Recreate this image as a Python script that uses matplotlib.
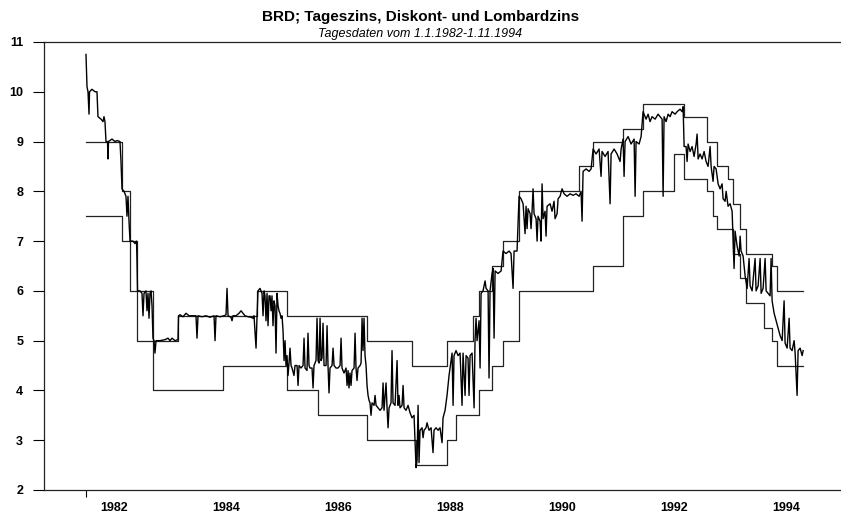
import matplotlib
matplotlib.use("Agg")
import matplotlib.pyplot as plt
import numpy as np

plt.rcParams['font.family'] = ['Liberation Sans', 'DejaVu Sans']

# Tageszins (Tagesgeld): Zeit in Dezimaljahren, Wert in %
tag_t = [
    1982.000, 1982.018, 1982.036, 1982.054, 1982.063, 1982.107, 1982.161, 1982.196, 1982.214, 1982.268,
    1982.304, 1982.321, 1982.339, 1982.357, 1982.384, 1982.393, 1982.402, 1982.464, 1982.518, 1982.554,
    1982.607, 1982.625, 1982.643, 1982.679, 1982.714, 1982.732, 1982.750, 1982.768, 1982.786, 1982.839,
    1982.875, 1982.902, 1982.911, 1982.920, 1982.964, 1983.000, 1983.018, 1983.036, 1983.071, 1983.089,
    1983.107, 1983.125, 1983.143, 1983.161, 1983.179, 1983.196, 1983.214, 1983.232, 1983.250, 1983.321,
    1983.411, 1983.464, 1983.500, 1983.536, 1983.589, 1983.643, 1983.652, 1983.679, 1983.732, 1983.786,
    1983.839, 1983.893, 1983.964, 1983.982, 1984.000, 1984.071, 1984.143, 1984.214, 1984.286, 1984.304,
    1984.321, 1984.393, 1984.464, 1984.500, 1984.518, 1984.536, 1984.589, 1984.607, 1984.625, 1984.679,
    1984.732, 1984.768, 1984.804, 1984.839, 1984.893, 1984.946, 1984.982, 1985.000, 1985.036, 1985.054,
    1985.071, 1985.107, 1985.143, 1985.161, 1985.179, 1985.196, 1985.214, 1985.232, 1985.250, 1985.268,
    1985.286, 1985.304, 1985.321, 1985.339, 1985.357, 1985.375, 1985.393, 1985.411, 1985.429, 1985.446,
    1985.464, 1985.482, 1985.500, 1985.518, 1985.536, 1985.554, 1985.571, 1985.589, 1985.607, 1985.625,
    1985.643, 1985.661, 1985.679, 1985.714, 1985.732, 1985.768, 1985.786, 1985.804, 1985.839, 1985.875,
    1985.893, 1985.911, 1985.946, 1985.964, 1985.982, 1986.000, 1986.036, 1986.054, 1986.071, 1986.107,
    1986.125, 1986.143, 1986.161, 1986.179, 1986.196, 1986.214, 1986.232, 1986.250, 1986.286, 1986.304,
    1986.321, 1986.339, 1986.357, 1986.393, 1986.411, 1986.429, 1986.464, 1986.500, 1986.536, 1986.554,
    1986.571, 1986.607, 1986.643, 1986.661, 1986.679, 1986.696, 1986.714, 1986.732, 1986.750, 1986.786,
    1986.804, 1986.821, 1986.839, 1986.857, 1986.893, 1986.911, 1986.929, 1986.946, 1986.964, 1986.982,
    1987.000, 1987.018, 1987.036, 1987.054, 1987.071, 1987.089, 1987.107, 1987.143, 1987.161, 1987.179,
    1987.214, 1987.250, 1987.286, 1987.304, 1987.321, 1987.357, 1987.375, 1987.393, 1987.411, 1987.446,
    1987.464, 1987.482, 1987.518, 1987.554, 1987.571, 1987.589, 1987.607, 1987.643, 1987.661, 1987.679,
    1987.714, 1987.750, 1987.786, 1987.821, 1987.857, 1987.875, 1987.893, 1987.911, 1987.929, 1987.946,
    1987.964, 1988.000, 1988.018, 1988.036, 1988.071, 1988.089, 1988.125, 1988.161, 1988.196, 1988.214,
    1988.250, 1988.286, 1988.321, 1988.357, 1988.375, 1988.411, 1988.446, 1988.482, 1988.518, 1988.536,
    1988.554, 1988.571, 1988.607, 1988.643, 1988.679, 1988.714, 1988.732, 1988.768, 1988.786, 1988.821,
    1988.839, 1988.857, 1988.893, 1988.929, 1988.946, 1988.964, 1988.982, 1989.000, 1989.018, 1989.036,
    1989.054, 1989.089, 1989.125, 1989.143, 1989.179, 1989.196, 1989.214, 1989.250, 1989.268, 1989.286,
    1989.304, 1989.357, 1989.411, 1989.446, 1989.500, 1989.554, 1989.589, 1989.625, 1989.643, 1989.696,
    1989.732, 1989.768, 1989.804, 1989.839, 1989.857, 1989.875, 1989.893, 1989.929, 1989.946, 1989.964,
    1989.982, 1990.000, 1990.036, 1990.054, 1990.071, 1990.107, 1990.125, 1990.143, 1990.161, 1990.196,
    1990.214, 1990.232, 1990.286, 1990.321, 1990.357, 1990.375, 1990.411, 1990.429, 1990.464, 1990.500,
    1990.536, 1990.589, 1990.643, 1990.696, 1990.750, 1990.804, 1990.839, 1990.857, 1990.875, 1990.929,
    1990.982, 1991.018, 1991.054, 1991.107, 1991.161, 1991.196, 1991.214, 1991.268, 1991.321, 1991.357,
    1991.375, 1991.429, 1991.482, 1991.536, 1991.554, 1991.589, 1991.607, 1991.625, 1991.679, 1991.732,
    1991.786, 1991.804, 1991.821, 1991.875, 1991.911, 1991.946, 1992.000, 1992.036, 1992.071, 1992.107,
    1992.161, 1992.214, 1992.250, 1992.286, 1992.304, 1992.321, 1992.357, 1992.393, 1992.429, 1992.464,
    1992.518, 1992.554, 1992.607, 1992.643, 1992.661, 1992.679, 1992.714, 1992.732, 1992.750, 1992.786,
    1992.821, 1992.857, 1992.893, 1992.911, 1992.929, 1992.964, 1993.000, 1993.036, 1993.071, 1993.107,
    1993.143, 1993.161, 1993.196, 1993.214, 1993.250, 1993.286, 1993.321, 1993.357, 1993.375, 1993.411,
    1993.429, 1993.464, 1993.500, 1993.536, 1993.571, 1993.589, 1993.625, 1993.661, 1993.679, 1993.696,
    1993.732, 1993.768, 1993.804, 1993.839, 1993.857, 1993.893, 1993.946, 1993.964, 1994.000, 1994.036,
    1994.054, 1994.089, 1994.125, 1994.143, 1994.179, 1994.214, 1994.232, 1994.250, 1994.286, 1994.321,
    1994.357, 1994.393, 1994.429, 1994.464, 1994.482, 1994.518, 1994.554, 1994.571, 1994.607, 1994.643,
    1994.661, 1994.696, 1994.714, 1994.750, 1994.786, 1994.804,
]
tag_v = [
    10.75, 10.10, 10.00, 9.55, 10.00, 10.05, 10.00, 10.00, 9.50, 9.45,
    9.40, 9.50, 9.40, 9.00, 9.00, 8.65, 9.00, 9.05, 9.00, 9.02,
    9.00, 8.60, 8.05, 8.00, 7.90, 7.50, 7.90, 7.40, 7.00, 7.00,
    6.95, 7.00, 6.60, 6.00, 6.00, 5.95, 5.50, 5.95, 6.00, 5.60,
    5.95, 5.45, 5.95, 6.00, 5.70, 5.05, 5.00, 4.75, 5.00, 5.00,
    5.02, 5.05, 5.00, 5.05, 5.00, 5.02, 5.50, 5.52, 5.48, 5.55,
    5.50, 5.50, 5.50, 5.05, 5.50, 5.48, 5.50, 5.47, 5.50, 5.00,
    5.50, 5.48, 5.50, 5.52, 6.05, 5.50, 5.47, 5.40, 5.50, 5.50,
    5.55, 5.60, 5.55, 5.50, 5.48, 5.47, 5.45, 5.50, 4.85, 5.50,
    6.00, 6.05, 5.95, 5.50, 6.00, 5.90, 5.40, 5.95, 5.30, 5.90,
    5.90, 5.60, 5.90, 5.30, 5.80, 5.70, 4.75, 5.95, 5.70, 5.60,
    5.55, 5.45, 5.50, 5.20, 4.60, 5.00, 4.50, 4.70, 4.30, 4.55,
    4.85, 4.50, 4.45, 4.30, 4.50, 4.50, 4.10, 4.50, 4.45, 4.50,
    5.05, 4.45, 4.40, 5.15, 4.50, 4.45, 4.45, 4.05, 4.50, 4.60,
    5.45, 4.60, 4.55, 5.45, 4.60, 4.65, 5.35, 4.50, 4.50, 5.30,
    4.50, 3.95, 4.45, 4.50, 4.85, 4.50, 4.45, 4.45, 4.50, 5.05,
    4.45, 4.35, 4.45, 4.10, 4.40, 4.05, 4.35, 4.10, 4.40, 4.45,
    5.15, 4.45, 4.20, 4.45, 4.50, 4.55, 5.45, 4.80, 5.45, 4.70,
    4.50, 4.10, 3.90, 3.80, 3.75, 3.50, 3.75, 3.70, 3.90, 3.70,
    3.65, 3.60, 3.65, 4.15, 3.60, 4.15, 3.65, 3.25, 3.65, 3.75,
    4.80, 3.75, 3.70, 4.60, 3.70, 3.90, 3.65, 3.70, 4.10, 3.65,
    3.60, 3.70, 3.55, 3.45, 3.50, 2.95, 2.45, 2.60, 3.70, 2.55,
    3.20, 3.25, 3.05, 3.20, 3.25, 3.35, 3.20, 3.25, 2.75, 3.20,
    3.25, 3.20, 3.25, 2.95, 3.45, 3.60, 3.90, 4.30, 4.60, 4.75,
    3.70, 4.70, 4.80, 4.70, 4.75, 3.70, 4.75, 3.90, 4.70, 4.65,
    3.90, 4.70, 4.75, 3.65, 5.00, 5.45, 5.00, 5.20, 5.40, 4.45,
    5.95, 6.00, 6.20, 6.05, 6.00, 4.25, 6.00, 6.35, 6.45, 5.05,
    6.40, 6.35, 6.40, 6.80, 6.75, 6.80, 6.75, 6.05, 6.80, 6.80,
    7.90, 7.85, 7.75, 7.15, 7.70, 7.25, 7.65, 7.55, 7.25, 7.60,
    8.05, 7.55, 7.45, 7.00, 7.50, 7.40, 7.00, 8.15, 7.45, 7.60,
    7.10, 7.70, 7.75, 7.60, 7.80, 7.45, 7.55, 7.85, 7.90, 8.05,
    7.95, 7.90, 7.95, 7.92, 7.95, 7.90, 8.00, 7.40, 8.40, 8.45,
    8.40, 8.45, 8.85, 8.75, 8.85, 8.30, 8.80, 8.70, 8.80, 7.75,
    8.75, 8.85, 8.75, 8.60, 8.85, 9.05, 8.30, 9.00, 9.10, 8.95,
    9.05, 7.90, 9.00, 8.95, 9.10, 9.60, 9.45, 9.55, 9.40, 9.50,
    9.45, 9.55, 9.50, 9.45, 7.90, 9.50, 9.40, 9.55, 9.50, 9.60,
    9.55, 9.60, 9.65, 9.60, 9.70, 8.90, 8.90, 8.60, 8.95, 8.80,
    8.90, 8.70, 8.95, 9.15, 8.65, 8.75, 8.65, 8.80, 8.60, 8.50,
    8.90, 8.50, 8.20, 8.50, 8.45, 8.15, 8.05, 8.15, 7.85, 7.80,
    8.00, 7.70, 7.75, 7.60, 6.45, 7.20, 6.90, 6.70, 7.10, 6.80,
    6.70, 6.30, 6.05, 6.65, 6.10, 6.00, 6.65, 6.00, 6.10, 6.65,
    5.95, 6.05, 6.65, 6.00, 5.95, 5.90, 6.65, 5.80, 5.55, 5.40,
    5.25, 5.10, 5.00, 5.80, 4.95, 4.85, 5.45, 4.85, 4.80, 5.00,
    4.75, 3.90, 4.80, 4.85, 4.70, 4.80,
]

# Diskontsatz: Beginn der Gueltigkeit und Satz
disk_t = [1982.000, 1982.643, 1982.786, 1982.911, 1983.196, 1984.446, 1985.589, 1986.143,
          1987.018, 1987.893, 1988.446, 1988.607, 1989.018, 1989.250, 1989.446, 1989.732,
          1991.054, 1991.589, 1991.946, 1992.500, 1992.679, 1993.089, 1993.196, 1993.268,
          1993.554, 1993.679, 1993.786, 1994.107, 1994.250, 1994.339, 1994.804]
disk_v = [7.5, 7.0, 6.0, 5.0, 4.0, 4.5, 4.0, 3.5,
          3.0, 2.5, 3.0, 3.5, 4.0, 4.5, 5.0, 6.0,
          6.5, 7.5, 8.0, 8.75, 8.25, 8.0, 7.5, 7.25,
          6.75, 6.25, 5.75, 5.25, 5.0, 4.5, 4.5]

# Lombardsatz
lomb_t = [1982.000, 1982.643, 1982.786, 1982.911, 1983.196, 1983.643, 1985.054, 1985.589,
          1987.018, 1987.821, 1988.446, 1988.911, 1989.018, 1989.250, 1989.446, 1989.732,
          1990.804, 1991.054, 1991.589, 1991.946, 1992.679, 1993.089, 1993.268, 1993.464,
          1993.554, 1993.679, 1993.786, 1994.250, 1994.339, 1994.804]
lomb_v = [9.0, 8.0, 7.0, 6.0, 5.0, 5.5, 6.0, 5.5,
          5.0, 4.5, 5.0, 5.5, 6.0, 6.5, 7.0, 8.0,
          8.5, 9.0, 9.25, 9.75, 9.5, 9.0, 8.5, 8.25,
          7.75, 7.25, 6.75, 6.5, 6.0, 6.0]

jahre = [1982, 1984, 1986, 1988, 1990, 1992, 1994]
y_ticks = [2, 3, 4, 5, 6, 7, 8, 9, 10, 11]

fig = plt.figure(figsize=(8.41, 5.19), dpi=100)
ax = fig.add_axes([0.0523, 0.0559, 0.9477, 0.8632])

ax.step(disk_t, disk_v, where='post', color='#222222', lw=0.9)
ax.step(lomb_t, lomb_v, where='post', color='#222222', lw=0.9)
ax.plot(tag_t, tag_v, color='black', lw=1.0)

ax.set_xlim(1981.25, 1995.48)
ax.set_ylim(2, 11)

ax.spines['right'].set_visible(False)
for s in ['left', 'top', 'bottom']:
    ax.spines[s].set_color('#222222')
    ax.spines[s].set_linewidth(0.9)

ax.set_yticks(y_ticks)
ax.set_yticklabels([str(v) for v in y_ticks], fontsize=9, fontweight='bold')
ax.tick_params(axis='y', length=8, width=0.8, pad=7, direction='out')

# eine Strichmarke am Anfang, Jahresbeschriftungen jeweils zur Jahresmitte
ax.set_xticks([1982])
ax.set_xticklabels([''])
ax.tick_params(axis='x', which='major', length=5, width=0.8, direction='out')
ax.set_xticks([j + 0.5 for j in jahre], minor=True)
ax.set_xticklabels([str(j) for j in jahre], minor=True, fontsize=9, fontweight='bold')
ax.tick_params(axis='x', which='minor', length=0, pad=9)

fig.text(0.5, 0.968, 'BRD; Tageszins, Diskont- und Lombardzins', ha='center', va='center',
         fontsize=11, fontweight='bold')
fig.text(0.5, 0.934, 'Tagesdaten vom 1.1.1982-1.11.1994', ha='center', va='center',
         fontsize=9, fontstyle='italic')

fig.savefig('out.png', dpi=100)
